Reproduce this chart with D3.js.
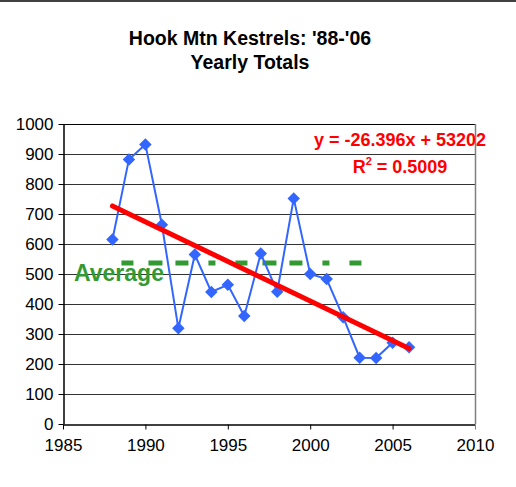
<!DOCTYPE html>
<html>
<head>
<meta charset="utf-8">
<script src="https://cdn.jsdelivr.net/npm/d3@7"></script>
<style>
  body { margin: 0; background: #fff; }
  svg { font-family: "Liberation Sans", Arial, sans-serif; }
</style>
</head>
<body>
<svg id="chart"></svg>
<script>
var years = [1988, 1989, 1990, 1991, 1992, 1993, 1994, 1995, 1996, 1997,
             1998, 1999, 2000, 2001, 2002, 2003, 2004, 2005, 2006];
var totals = [615, 882, 932, 664, 319, 565, 440, 464, 360, 568,
              441, 752, 500, 483, 356, 221, 220, 271, 256];
var avgValue = 537;
var avgYears = [1988, 2003.2];
var trendSlope = -26.396;
var trendIntercept = 53202;
var trendYears = [1988, 2006];
var yTicks = [0, 100, 200, 300, 400, 500, 600, 700, 800, 900, 1000];
var xTicks = [1985, 1990, 1995, 2000, 2005, 2010];

var svg = d3.select("#chart")
            .attr("width", 516)
            .attr("height", 487);

var x = d3.scaleLinear().domain([1985, 2010]).range([63, 475]);
var y = d3.scaleLinear().domain([0, 1000]).range([424, 124]);

// top frame line
svg.append("line")
	.attr("x1", 0).attr("x2", 516)
	.attr("y1", 1).attr("y2", 1)
	.attr("stroke", "#000")
	.attr("stroke-width", 1.5);

// title
svg.append("text")
	.attr("x", 250).attr("y", 45)
	.attr("text-anchor", "middle")
	.attr("font-size", 19.5).attr("font-weight", "bold")
	.text("Hook Mtn Kestrels: '88-'06");
svg.append("text")
	.attr("x", 250).attr("y", 69)
	.attr("text-anchor", "middle")
	.attr("font-size", 19.5).attr("font-weight", "bold")
	.text("Yearly Totals");

// gridlines
svg.append("g")
	.selectAll("line")
	.data(yTicks.filter(function(d) { return d > 0; }))
	.join("line")
	.attr("x1", x(1985)).attr("x2", x(2010))
	.attr("y1", function(d) { return Math.round(y(d)) + 0.5; })
	.attr("y2", function(d) { return Math.round(y(d)) + 0.5; })
	.attr("stroke", function(d) { return d === 1000 ? "#000" : "#333"; })
	.attr("stroke-width", 1);

// right border
svg.append("line")
	.attr("x1", x(2010) + 0.5).attr("x2", x(2010) + 0.5)
	.attr("y1", y(1000)).attr("y2", y(0))
	.attr("stroke", "#808080")
	.attr("stroke-width", 1.5);

// axes
var yAxis = svg.append("g")
	.attr("transform", "translate(" + (x(1985) + 0.5) + ",0)")
	.call(d3.axisLeft(y).tickValues(yTicks).tickFormat(d3.format("d")).tickSize(5).tickSizeOuter(0).tickPadding(5));
var xAxis = svg.append("g")
	.attr("transform", "translate(0," + (y(0) + 0.5) + ")")
	.call(d3.axisBottom(x).tickValues(xTicks).tickFormat(d3.format("d")).tickSize(5).tickSizeOuter(0).tickPadding(9));
[yAxis, xAxis].forEach(function(a) {
	a.attr("font-size", 17).attr("font-family", "Liberation Sans, Arial, sans-serif");
	a.select(".domain").attr("stroke", "#000").attr("stroke-width", 1.5);
	a.selectAll(".tick line").attr("stroke", "#000");
	a.selectAll("text").attr("fill", "#000");
});
xAxis.select(".tick:last-of-type line").attr("stroke", "#808080");

// average line
svg.append("line")
	.attr("x1", x(avgYears[0])).attr("x2", x(avgYears[1]))
	.attr("y1", y(avgValue)).attr("y2", y(avgValue))
	.attr("stroke", "#339933")
	.attr("stroke-width", 5)
	.attr("stroke-dasharray", "12,15,14,13,13,20,7,20")
	.attr("stroke-dashoffset", 105);

svg.append("text")
	.attr("x", 74).attr("y", 281)
	.attr("font-size", 23).attr("font-weight", "bold")
	.attr("fill", "#339933")
	.text("Average");

// data series
var line = d3.line()
	.x(function(d, i) { return x(years[i]); })
	.y(function(d) { return y(d); });

svg.append("path")
	.datum(totals)
	.attr("d", line)
	.attr("fill", "none")
	.attr("stroke", "#3366FF")
	.attr("stroke-width", 2);

svg.append("g")
	.selectAll("path")
	.data(totals)
	.join("path")
	.attr("d", d3.symbol().type(d3.symbolSquare).size(78))
	.attr("transform", function(d, i) {
		return "translate(" + x(years[i]) + "," + y(d) + ") rotate(45)";
	})
	.attr("fill", "#3366FF");

// trendline
svg.append("line")
	.attr("x1", x(trendYears[0]))
	.attr("y1", y(trendSlope * trendYears[0] + trendIntercept))
	.attr("x2", x(trendYears[1]))
	.attr("y2", y(trendSlope * trendYears[1] + trendIntercept))
	.attr("stroke", "#FF0000")
	.attr("stroke-width", 5)
	.attr("stroke-linecap", "round");

// equation
svg.append("text")
	.attr("x", 400).attr("y", 146)
	.attr("text-anchor", "middle")
	.attr("font-size", 18).attr("font-weight", "bold")
	.attr("fill", "#FF0000")
	.text("y = -26.396x + 53202");
var r2 = svg.append("text")
	.attr("x", 400).attr("y", 173)
	.attr("text-anchor", "middle")
	.attr("font-size", 18).attr("font-weight", "bold")
	.attr("fill", "#FF0000");
r2.append("tspan").text("R");
r2.append("tspan").attr("font-size", 11).attr("dy", -8).text("2");
r2.append("tspan").attr("dy", 8).text(" = 0.5009");
</script>
</body>
</html>
